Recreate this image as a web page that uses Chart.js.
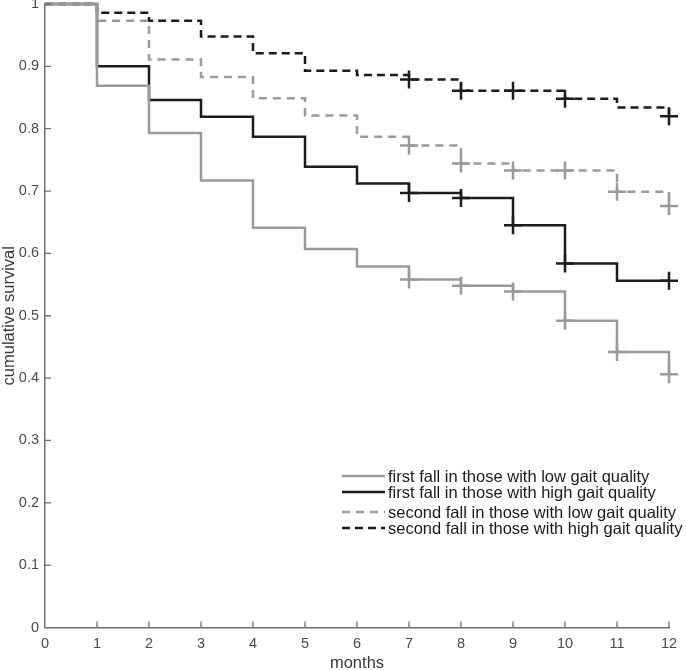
<!DOCTYPE html>
<html>
<head>
<meta charset="utf-8">
<title>Cumulative survival</title>
<script src="https://cdn.jsdelivr.net/npm/chart.js@4.4.1/dist/chart.umd.min.js"></script>
<style>
  html, body { margin: 0; padding: 0; background: #fff; }
  #wrap { width: 686px; height: 670px; }
</style>
</head>
<body>
<div id="wrap"><canvas id="kmChart" width="686" height="670"></canvas></div>
<script>
// Kaplan-Meier estimates, value after the step at each month
const months = [0, 1, 2, 3, 4, 5, 6, 7, 8, 9, 10, 11, 12];
const firstLow   = [1, 0.869, 0.793, 0.717, 0.641, 0.607, 0.579, 0.558, 0.548, 0.539, 0.492, 0.442, 0.406];
const firstHigh  = [1, 0.900, 0.846, 0.819, 0.787, 0.739, 0.712, 0.697, 0.689, 0.645, 0.584, 0.556, 0.556];
const secondLow  = [1, 0.973, 0.911, 0.883, 0.849, 0.821, 0.787, 0.773, 0.744, 0.733, 0.733, 0.699, 0.676];
const secondHigh = [1, 0.986, 0.973, 0.948, 0.921, 0.893, 0.886, 0.879, 0.861, 0.861, 0.848, 0.834, 0.820];

// months with censoring marks (+)
const firstLowCens   = [7, 8, 9, 10, 11, 12];
const firstHighCens  = [7, 8, 9, 10, 12];
const secondLowCens  = [7, 8, 9, 10, 11, 12];
const secondHighCens = [7, 8, 9, 10, 12];

const labels = [
    "first fall in those with low gait quality",
    "first fall in those with high gait quality",
    "second fall in those with low gait quality",
    "second fall in those with high gait quality"
];

const GRAY = "#9a9a9a";
const BLACK = "#1c1c1c";
const AXIS = "#707070";
const FONT = "'Liberation Sans', Arial, sans-serif";

const series = [
    { values: firstLow,   cens: firstLowCens,   color: GRAY,  dash: [] },
    { values: firstHigh,  cens: firstHighCens,  color: BLACK, dash: [] },
    { values: secondLow,  cens: secondLowCens,  color: GRAY,  dash: [8, 6] },
    { values: secondHigh, cens: secondHighCens, color: BLACK, dash: [8, 5] }
];

const datasets = [];
series.forEach((s, i) => {
    datasets.push({
        label: labels[i],
        data: months.map((m, k) => ({ x: m, y: s.values[k] })),
        stepped: "before",
        borderColor: s.color,
        borderWidth: 2.5,
        borderDash: s.dash,
        pointRadius: 0,
        fill: false,
        clip: false
    });
});
series.forEach((s, i) => {
    datasets.push({
        label: labels[i] + " (censored)",
        data: s.cens.map(m => ({ x: m, y: s.values[months.indexOf(m)] })),
        showLine: false,
        pointStyle: "cross",
        pointRadius: 9,
        pointBorderWidth: 2.5,
        pointBorderColor: s.color,
        pointBackgroundColor: s.color,
        clip: false
    });
});

// ticks pointing into the plot, like the original figure
const inwardTicks = {
    id: "inwardTicks",
    afterDraw(chart) {
        const { ctx, scales: { x, y } } = chart;
        ctx.save();
        ctx.strokeStyle = AXIS;
        ctx.lineWidth = 1.3;
        ctx.beginPath();
        x.ticks.forEach(t => {
            if (t.value === 0) return;
            const px = x.getPixelForValue(t.value);
            ctx.moveTo(px, x.top);
            ctx.lineTo(px, x.top - 6);
        });
        y.ticks.forEach(t => {
            if (t.value === 0) return;
            const py = y.getPixelForValue(t.value);
            ctx.moveTo(y.right, py);
            ctx.lineTo(y.right + 6, py);
        });
        ctx.stroke();
        ctx.restore();
    }
};

// legend drawn inside the plot, bottom right
const boxLegend = {
    id: "boxLegend",
    afterDraw(chart) {
        const ctx = chart.ctx;
        const rows = [476, 492, 512, 528];
        ctx.save();
        ctx.font = "16.5px " + FONT;
        ctx.textBaseline = "middle";
        ctx.fillStyle = "#1a1a1a";
        series.forEach((s, i) => {
            const yy = rows[i];
            ctx.strokeStyle = s.color;
            ctx.lineWidth = 2.5;
            ctx.setLineDash(s.dash);
            ctx.beginPath();
            ctx.moveTo(342, yy);
            ctx.lineTo(385, yy);
            ctx.stroke();
            ctx.setLineDash([]);
            ctx.fillText(labels[i], 388, yy + 1);
        });
        ctx.restore();
    }
};

new Chart(document.getElementById("kmChart"), {
    type: "line",
    data: { datasets },
    options: {
        responsive: false,
        animation: false,
        events: [],
        layout: { autoPadding: false, padding: { top: 4, right: 17, left: 0, bottom: 0 } },
        plugins: { legend: { display: false }, tooltip: { enabled: false } },
        scales: {
            x: {
                type: "linear",
                min: 0,
                max: 12,
                afterFit: s => { s.height = 42.5; },
                grid: { display: false, drawTicks: false },
                border: { display: true, color: AXIS, width: 1.5 },
                ticks: {
                    stepSize: 1,
                    padding: 8,
                    color: "#4a4a4a",
                    font: { family: FONT, size: 14.5 }
                },
                title: {
                    display: true,
                    text: "months",
                    color: "#3a3a3a",
                    padding: { top: 0, bottom: -3 },
                    font: { family: FONT, size: 16.5 }
                }
            },
            y: {
                min: 0,
                max: 1,
                afterFit: s => { s.width = 45; s.paddingTop = 0; s.paddingBottom = 0; },
                grid: { display: false, drawTicks: false },
                border: { display: true, color: AXIS, width: 1.5 },
                ticks: {
                    stepSize: 0.1,
                    padding: 6,
                    color: "#4a4a4a",
                    font: { family: FONT, size: 14.5 },
                    callback: v => String(Number(v.toFixed(1)))
                },
                title: {
                    display: true,
                    text: "cumulative survival",
                    color: "#3a3a3a",
                    padding: { top: 0, bottom: 0 },
                    font: { family: FONT, size: 16.5 }
                }
            }
        }
    },
    plugins: [inwardTicks, boxLegend]
});
</script>
</body>
</html>
